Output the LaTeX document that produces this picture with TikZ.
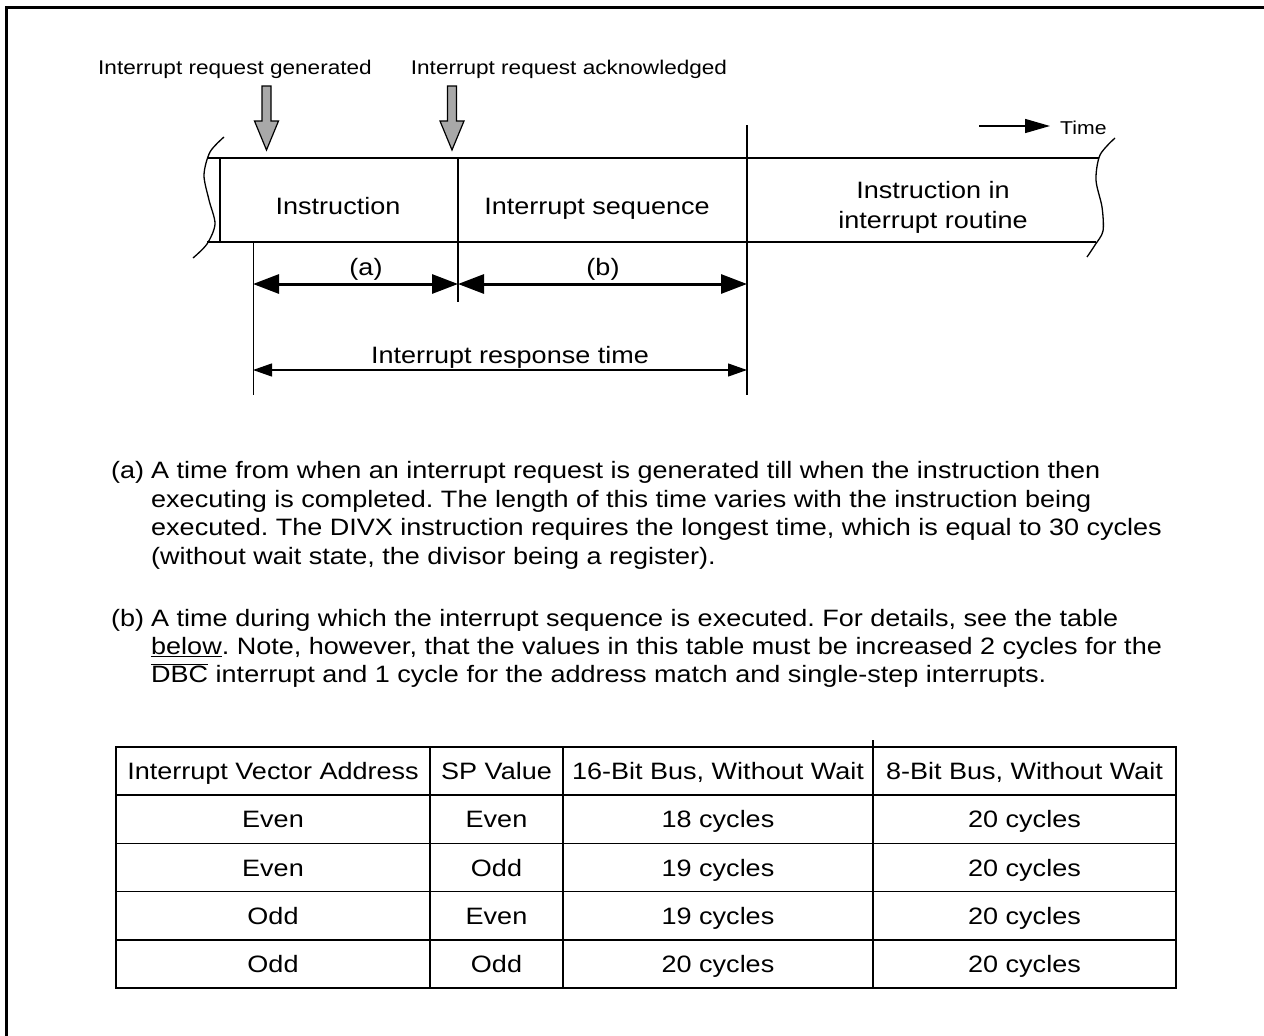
\documentclass[tikz,border=0pt]{standalone}
\usepackage{fontspec}
\setmainfont{Liberation Sans}[FakeStretch=1.14]
\usetikzlibrary{arrows.meta}
\definecolor{arrowgray}{RGB}{168,168,168}
\frenchspacing
\tikzset{
  body/.style={font=\fontsize{23.7}{29.5}\selectfont\frenchspacing, inner sep=0pt, anchor=base},
  bodyw/.style={body, anchor=base west},
  small/.style={font=\fontsize{19.8}{22}\selectfont, inner sep=0pt, anchor=base},
  thinline/.style={line width=1.2pt},
  boxline/.style={line width=2pt},
  dimthick/.style={line width=3pt, {Triangle[length=26pt,width=19pt]}-{Triangle[length=26pt,width=19pt]}},
  dimthin/.style={line width=1.2pt, {Triangle[length=19pt,width=13pt]}-{Triangle[length=19pt,width=13pt]}},
  grayarrow/.style={fill=arrowgray, draw=black, line width=1.2pt, line join=miter},
}
\begin{document}
\begin{tikzpicture}[x=1pt,y=-1pt]
\useasboundingbox (0,0) rectangle (1264,1036);
% frame
\draw[line width=3pt] (6.5,1040) -- (6.5,7.5) -- (1268,7.5);

% top labels
\node[small] (lgen) at (235,74) {Interrupt request generated};
\node[small] (lack) at (569,74) {Interrupt request acknowledged};

% gray arrows
\filldraw[grayarrow] (262,86) -- (271,86) -- (271,121) -- (278.5,121) -- (266.5,150) -- (254.5,121) -- (262,121) -- cycle;
\filldraw[grayarrow] (447.5,86) -- (456.5,86) -- (456.5,121) -- (464,121) -- (452,150) -- (440,121) -- (447.5,121) -- cycle;

% time arrow
\node[font=\fontsize{18.6}{20}\selectfont, inner sep=0pt, anchor=base west] (time) at (1060,134) {Time};
\coordinate (tstart) at (979,126);
\coordinate (tend) at (1050,126);
\draw[line width=1.5pt, -{Triangle[length=25pt,width=14pt]}] (tstart) -- (tend);

% timeline band
\draw[boxline] (208,158) -- (1099,158);
\draw[boxline] (207,242) -- (1096,242);
\draw[line width=1.3pt] plot[smooth] coordinates {(224,137) (210,152) (204,175) (209,200) (215,224) (207,244) (193,258)};
\draw[line width=1.3pt] plot[smooth] coordinates {(1115,138) (1100,155) (1096,180) (1102,207) (1103,231) (1095,245) (1087,257)};
\draw[boxline] (220,158) -- (220,242);

\coordinate (dA) at (458,158);
\coordinate (dAb) at (458,302);
\coordinate (dB) at (747,125);
\coordinate (dBb) at (747,395);
\coordinate (eL) at (253,242);
\coordinate (eLb) at (253,395);
\draw[line width=1.5pt] (dA) -- (dAb);
\draw[thinline] (dB) -- (dBb);
\draw[line width=1pt] (eL) -- (eLb);

\node[body] (instr) at (338,214) {Instruction};
\node[body] (iseq) at (597,214) {Interrupt sequence};
\node[body] (iroutA) at (933,198.5) {Instruction in};
\node[body] (iroutB) at (933,228) {interrupt routine};

% dimension arrows
\coordinate (a1) at (253,284);
\coordinate (a2) at (458,284);
\coordinate (b2) at (747,284);
\draw[dimthick] (a1) -- (a2);
\draw[dimthick] (a2) -- (b2);
\node[body] (la) at (366,275) {(a)};
\node[body] (lb) at (603,275) {(b)};

\coordinate (r1) at (253,370);
\coordinate (r2) at (747,370);
\draw[dimthin] (r1) -- (r2);
\node[body] (lresp) at (510,363) {Interrupt response time};

% paragraph (a)
\node[bodyw] (pa) at (111,478.5) {(a)};
\node[bodyw] (pa1) at (151,478.5) {A time from when an interrupt request is generated till when the instruction then};
\node[bodyw] (pa2) at (151,507) {executing is completed. The length of this time varies with the instruction being};
\node[bodyw] (pa3) at (151,535.5) {executed. The DIVX instruction requires the longest time, which is equal to 30 cycles};
\node[bodyw] (pa4) at (151,564) {(without wait state, the divisor being a register).};

% paragraph (b)
\node[bodyw] (pb) at (111,626.5) {(b)};
\node[bodyw] (pb1) at (151,626.5) {A time during which the interrupt sequence is executed. For details, see the table};
\node[bodyw] (pb2) at (151,654.5) {\underline{below}. Note, however, that the values in this table must be increased 2 cycles for the};
\node[bodyw] (pb3) at (151,682.5) {$\overline{\mbox{DBC}}$ interrupt and 1 cycle for the address match and single-step interrupts.};

% table
\draw[thinline] (116,795) -- (1176,795);
\draw[thinline] (116,843.5) -- (1176,843.5);
\draw[thinline] (116,891.5) -- (1176,891.5);
\draw[thinline] (116,940) -- (1176,940);
\draw[thinline] (430,747) -- (430,988);
\draw[thinline] (563,747) -- (563,988);
\draw[thinline] (873,740) -- (873,988);
\draw[boxline] (116,747) rectangle (1176,988);

\node[body] (h1) at (273,779.5) {Interrupt Vector Address};
\node[body] (h2) at (496.5,779.5) {SP Value};
\node[body] (h3) at (718,779.5) {16-Bit Bus, Without Wait};
\node[body] (h4) at (1024.5,779.5) {8-Bit Bus, Without Wait};

\node[body] (c11) at (273,827.75) {Even};
\node[body] (c12) at (496.5,827.75) {Even};
\node[body] (c13) at (718,827.75) {18 cycles};
\node[body] (c14) at (1024.5,827.75) {20 cycles};

\node[body] (c21) at (273,876) {Even};
\node[body] (c22) at (496.5,876) {Odd};
\node[body] (c23) at (718,876) {19 cycles};
\node[body] (c24) at (1024.5,876) {20 cycles};

\node[body] (c31) at (273,924.25) {Odd};
\node[body] (c32) at (496.5,924.25) {Even};
\node[body] (c33) at (718,924.25) {19 cycles};
\node[body] (c34) at (1024.5,924.25) {20 cycles};

\node[body] (c41) at (273,972.5) {Odd};
\node[body] (c42) at (496.5,972.5) {Odd};
\node[body] (c43) at (718,972.5) {20 cycles};
\node[body] (c44) at (1024.5,972.5) {20 cycles};
\end{tikzpicture}
\end{document}
